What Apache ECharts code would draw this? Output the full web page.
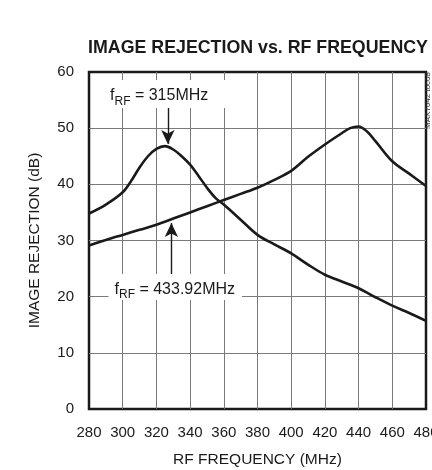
<!DOCTYPE html>
<html>
<head>
<meta charset="utf-8">
<script src="https://cdn.jsdelivr.net/npm/echarts@6/dist/echarts.min.js"></script>
<style>
html,body{margin:0;padding:0;background:#fff;}
#chart{width:432px;height:470px;}
</style>
</head>
<body>
<div id="chart"></div>
<script>
// ---- data ----
const freq315 = [280, 290, 300, 305, 310, 315, 320, 325, 330, 335, 340, 345, 350, 355, 360, 370, 380, 390, 400, 410, 420, 430, 440, 450, 460, 470, 480];
const rej315  = [34.8, 36.4, 38.6, 40.6, 43.0, 45.0, 46.3, 46.8, 46.2, 45.0, 43.5, 41.5, 39.4, 37.6, 36.4, 33.7, 31.0, 29.3, 27.7, 25.7, 23.9, 22.7, 21.5, 19.9, 18.4, 17.1, 15.7];
const freq434 = [280, 290, 300, 310, 320, 330, 340, 350, 360, 370, 380, 390, 400, 410, 420, 430, 435, 440, 445, 450, 460, 470, 480];
const rej434  = [29.1, 30.1, 31.0, 31.9, 32.8, 33.9, 35.0, 36.1, 37.2, 38.3, 39.4, 40.8, 42.4, 44.9, 47.1, 49.1, 50.0, 50.3, 49.4, 47.7, 44.1, 41.9, 39.7];
const xTicks = [280, 300, 320, 340, 360, 380, 400, 420, 440, 460, 480];
const yTicks = [0, 10, 20, 30, 40, 50, 60];
// annotation anchors in data units
const label315 = { value: '315MHz', x: 324.6, y: 56.1 };
const arrow315 = [[326.8, 53.8], [326.8, 47.2]];
const label434 = { value: '433.92MHz', x: 331.2, y: 21.7 };
const arrow434 = [[328.9, 23.9], [328.9, 33.1]];

const FONT = '"Liberation Sans", Arial, Helvetica, sans-serif';
const INK = '#1a1a1a';

function pairs(xs, ys) { return xs.map((x, i) => [x, ys[i]]); }

const richLabel = {
  f:   { fontFamily: FONT, fontSize: 16, color: INK, verticalAlign: 'bottom', lineHeight: 20 },
  sub: { fontFamily: FONT, fontSize: 12, color: INK, verticalAlign: 'bottom', lineHeight: 20, padding: [0, 0, -4, 0] },
  t:   { fontFamily: FONT, fontSize: 16, color: INK, verticalAlign: 'bottom', lineHeight: 20 }
};

function annotation(lbl, arrow, pad) {
  return {
    markPoint: {
      silent: true,
      symbol: 'rect',
      symbolSize: 0,
      data: [{ coord: [lbl.x, lbl.y], value: lbl.value }],
      label: {
        show: true,
        position: 'inside',
        formatter: p => '{f|f}{sub|RF}{t| = ' + p.value + '}',
        rich: richLabel,
        backgroundColor: '#fff',
        padding: pad
      }
    },
    markLine: {
      silent: true,
      symbolSize: [10, 14],
      animation: false,
      label: { show: false },
      lineStyle: { color: INK, width: 1.4, type: 'solid' },
      emphasis: { disabled: true },
      data: [[
        { coord: arrow[0], symbol: 'none' },
        { coord: arrow[1], symbol: 'arrow' }
      ]]
    }
  };
}

const chart = echarts.init(document.getElementById('chart'), null, { renderer: 'canvas' });
const lineStyle = { color: INK, width: 2.6 };

chart.setOption({
  animation: false,
  backgroundColor: '#fff',
  title: {
    text: 'IMAGE REJECTION vs. RF FREQUENCY',
    left: 253,
    top: 34,
    textAlign: 'center',
    textStyle: { fontFamily: FONT, fontWeight: 'bold', fontSize: 17.8, color: INK }
  },
  grid: {
    left: 89, right: 6, top: 72, bottom: 61,
    containLabel: false, outerBoundsMode: 'none',
    show: true, borderColor: INK, borderWidth: 2.5, backgroundColor: 'transparent'
  },
  xAxis: {
    type: 'value', min: xTicks[0], max: xTicks[xTicks.length - 1], interval: 20,
    name: 'RF FREQUENCY (MHz)', nameLocation: 'middle', nameGap: 43,
    nameTextStyle: { fontFamily: FONT, fontSize: 15.5, color: INK },
    axisLine: { show: false }, axisTick: { show: false },
    axisLabel: { fontFamily: FONT, fontSize: 15, color: INK, margin: 16, showMaxLabel: true, showMinLabel: true },
    splitLine: { show: true, showMinLine: false, showMaxLine: false, lineStyle: { color: '#7a7a7a', width: 1 } }
  },
  yAxis: {
    type: 'value', min: yTicks[0], max: yTicks[yTicks.length - 1], interval: 10,
    name: 'IMAGE REJECTION (dB)', nameLocation: 'middle', nameGap: 46,
    nameTextStyle: { fontFamily: FONT, fontSize: 15.5, color: INK },
    axisLine: { show: false }, axisTick: { show: false },
    axisLabel: { fontFamily: FONT, fontSize: 15, color: INK, margin: 15 },
    splitLine: { show: true, showMinLine: false, showMaxLine: false, lineStyle: { color: '#7a7a7a', width: 1 } }
  },
  graphic: [{
    type: 'text', right: 0, top: 72, rotation: Math.PI / 2,
    style: { text: 'MAX7042 toc08', fontFamily: FONT, fontSize: 8, fill: '#333' }
  }],
  series: [
    Object.assign({
      name: '315MHz', type: 'line', smooth: 0.35, showSymbol: false, silent: true,
      lineStyle: lineStyle, data: pairs(freq315, rej315), z: 3
    }, annotation(label315, arrow315, [4, 22, 4, 12])),
    Object.assign({
      name: '433.92MHz', type: 'line', smooth: 0.35, showSymbol: false, silent: true,
      lineStyle: lineStyle, data: pairs(freq434, rej434), z: 3
    }, annotation(label434, arrow434, [3, 7, 3, 6]))
  ]
});
</script>
</body>
</html>
